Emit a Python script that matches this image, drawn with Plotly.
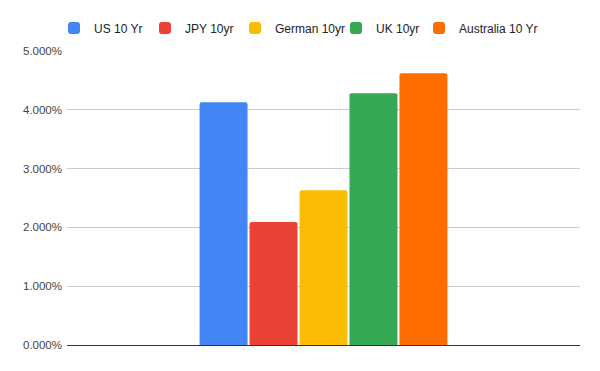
import plotly.graph_objects as go

categories = [""]
series_names = ["US 10 Yr", "JPY 10yr", "German 10yr", "UK 10yr", "Australia 10 Yr"]
series_values = [0.0413, 0.0209, 0.0263, 0.0428, 0.0462]
colors = ["#4285F4", "#EA4335", "#FBBC04", "#34A853", "#FF6D01"]
y_ticks = [0, 0.01, 0.02, 0.03, 0.04, 0.05]
legend_widths = [46, 45, 56, 38, 90]

fig = go.Figure()
for name, val, col, lw in zip(series_names, series_values, colors, legend_widths):
    fig.add_trace(go.Bar(x=categories, y=[val], name=name, marker_color=col,
                         marker_line_width=0, legendwidth=lw))

fig.update_layout(
    width=600, height=371,
    margin=dict(l=59, r=28, t=43, b=34, autoexpand=False),
    paper_bgcolor="white", plot_bgcolor="white",
    font=dict(family="Arial, Liberation Sans, sans-serif", size=11, color="#444"),
    barmode="group", bargap=0.513, bargroupgap=0.04,
    barcornerradius=2,
    showlegend=True,
    legend=dict(orientation="h", x=46 / 600, xanchor="left", y=0.985, yanchor="top",
                xref="container", yref="container", font=dict(size=12, color="#222"),
                itemwidth=30, traceorder="normal"),
    xaxis=dict(showticklabels=False, showgrid=False, ticks="", range=[-0.5, 0.5]),
    yaxis=dict(range=[0, 0.05], tickvals=y_ticks, tickformat=".3%",
               gridcolor="#cccccc", gridwidth=1, zeroline=True, zerolinecolor="#333",
               zerolinewidth=1, ticks="", ticklen=0, fixedrange=True,
               ticklabelstandoff=4,
               tickfont=dict(size=11.5, color="#444")),
)
fig.write_html("out.html")
